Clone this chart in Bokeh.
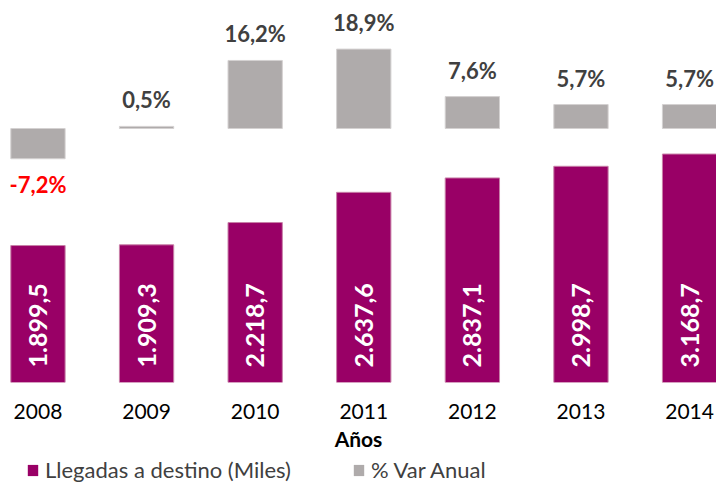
import math
from bokeh.plotting import figure
from bokeh.layouts import column
from bokeh.models import (ColumnDataSource, Range1d, LabelSet, Legend, LegendItem,
                          FixedTicker)
from bokeh.core.properties import value
from bokeh.embed import file_html
from bokeh.resources import INLINE

# ---- data ----
years = ["2008", "2009", "2010", "2011", "2012", "2013", "2014"]
arrivals = [1899.5, 1909.3, 2218.7, 2637.6, 2837.1, 2998.7, 3168.7]
var_pct = [-7.2, 0.5, 16.2, 18.9, 7.6, 5.7, 5.7]
series_names = ["Llegadas a destino (Miles)", "% Var Anual"]
x_title = "Años"


def fmt_miles(v):
    s = f"{v:,.1f}"
    return s.replace(",", "X").replace(".", ",").replace("X", ".")


def fmt_pct(v):
    return f"{v:.1f}%".replace(".", ",")


xs = list(range(len(years)))
MAGENTA = "#990066"
GRAY = "#AFABAB"
FONT = "Lato"

W = 716
H_MAIN = 456
BOTTOM = 74
frame_h = H_MAIN - BOTTOM          # 382
mag_end = frame_h / 0.0721          # magenta axis: zero at frame bottom
pct_top = 128 / 4.2                 # % axis: zero 128 px below frame top
pct_bottom = -(frame_h - 128) / 4.2

p = figure(width=W, height=H_MAIN, output_backend="svg", toolbar_location=None,
           x_range=Range1d(-0.345, 6.248), y_range=Range1d(0, mag_end),
           y_axis_location=None, min_border_left=0, min_border_right=0,
           min_border_top=0, min_border_bottom=BOTTOM)
p.extra_y_ranges = {"pct": Range1d(pct_bottom, pct_top)}
p.outline_line_color = None
p.xgrid.visible = False
p.ygrid.visible = False
p.background_fill_color = "white"
p.border_fill_color = "white"

src = ColumnDataSource(dict(
    x=xs, arr=arrivals, pct=var_pct, base=[0] * len(xs),
    arr_lab=[fmt_miles(v) for v in arrivals],
))
pos_idx = [i for i, v in enumerate(var_pct) if v >= 0]
neg_idx = [i for i, v in enumerate(var_pct) if v < 0]
src_pos = ColumnDataSource(dict(x=[xs[i] for i in pos_idx], pct=[var_pct[i] for i in pos_idx],
                                lab=[fmt_pct(var_pct[i]) for i in pos_idx]))
src_neg = ColumnDataSource(dict(x=[xs[i] for i in neg_idx], pct=[var_pct[i] for i in neg_idx],
                                lab=[fmt_pct(var_pct[i]) for i in neg_idx]))

p.vbar(x="x", top="arr", bottom=0, width=0.5, source=src,
       fill_color=MAGENTA, line_color="#C880A8", line_width=1)
p.vbar(x="x", top="pct", bottom=0, width=0.5, source=src, y_range_name="pct",
       fill_color=GRAY, line_color="#D4D1D1", line_width=1)

p.add_layout(LabelSet(x="x", y="base", text="arr_lab", source=src, angle=math.pi / 2,
                      text_align="left", text_baseline="middle", y_offset=15,
                      text_font=value(FONT), text_font_style="bold", text_font_size="25px",
                      text_color="white"))
p.add_layout(LabelSet(x="x", y="pct", text="lab", source=src_pos, y_range_name="pct",
                      text_align="center", text_baseline="alphabetic", y_offset=18,
                      text_font=value(FONT), text_font_style="bold", text_font_size="22px",
                      text_color="#404040"))
p.add_layout(LabelSet(x="x", y="pct", text="lab", source=src_neg, y_range_name="pct",
                      text_align="center", text_baseline="alphabetic", y_offset=-34,
                      text_font=value(FONT), text_font_style="bold", text_font_size="22px",
                      text_color="#FF0000"))

ax = p.xaxis[0]
ax.ticker = FixedTicker(ticks=xs)
ax.major_label_overrides = {x: y for x, y in zip(xs, years)}
ax.axis_line_color = None
ax.major_tick_line_color = None
ax.minor_tick_line_color = None
ax.major_tick_out = 0
ax.major_tick_in = 0
ax.major_label_standoff = 21
ax.major_label_text_font = FONT
ax.major_label_text_font_size = "21px"
ax.major_label_text_color = "black"
ax.axis_label = x_title
ax.axis_label_standoff = 4
ax.axis_label_text_font = FONT
ax.axis_label_text_font_size = "21px"
ax.axis_label_text_font_style = "bold"
ax.axis_label_text_color = "black"

# ---- legend strip: hidden proxy renderers of the same series; only the legend is drawn ----
H_LEG = 482 - H_MAIN
pl = figure(width=W, height=H_LEG, output_backend="svg", toolbar_location=None,
            x_range=Range1d(-0.345, 6.248), y_range=Range1d(0, mag_end),
            x_axis_location=None, y_axis_location=None,
            min_border_left=0, min_border_right=0, min_border_top=0, min_border_bottom=0)
pl.outline_line_color = None
pl.xgrid.visible = False
pl.ygrid.visible = False
pl.border_fill_color = "white"
la = pl.vbar(x="x", top="arr", bottom=0, width=0.5, source=src,
             fill_color=MAGENTA, line_color=None)
lb = pl.vbar(x="x", top="pct", bottom=0, width=0.5, source=src,
             fill_color=GRAY, line_color=None)
la.visible = False
lb.visible = False
legend = Legend(items=[LegendItem(label=series_names[0], renderers=[la]),
                       LegendItem(label=series_names[1], renderers=[lb])],
                orientation="horizontal", location=(26, -1),
                border_line_color=None, background_fill_alpha=0,
                inactive_fill_alpha=0,
                padding=0, margin=0, spacing=61, glyph_width=13, glyph_height=14,
                label_standoff=6, label_text_font=FONT, label_text_font_size="22px",
                label_text_color="#404040")
pl.add_layout(legend, "center")

layout = column(p, pl, spacing=0)
open("out.html", "w").write(file_html(layout, INLINE))
